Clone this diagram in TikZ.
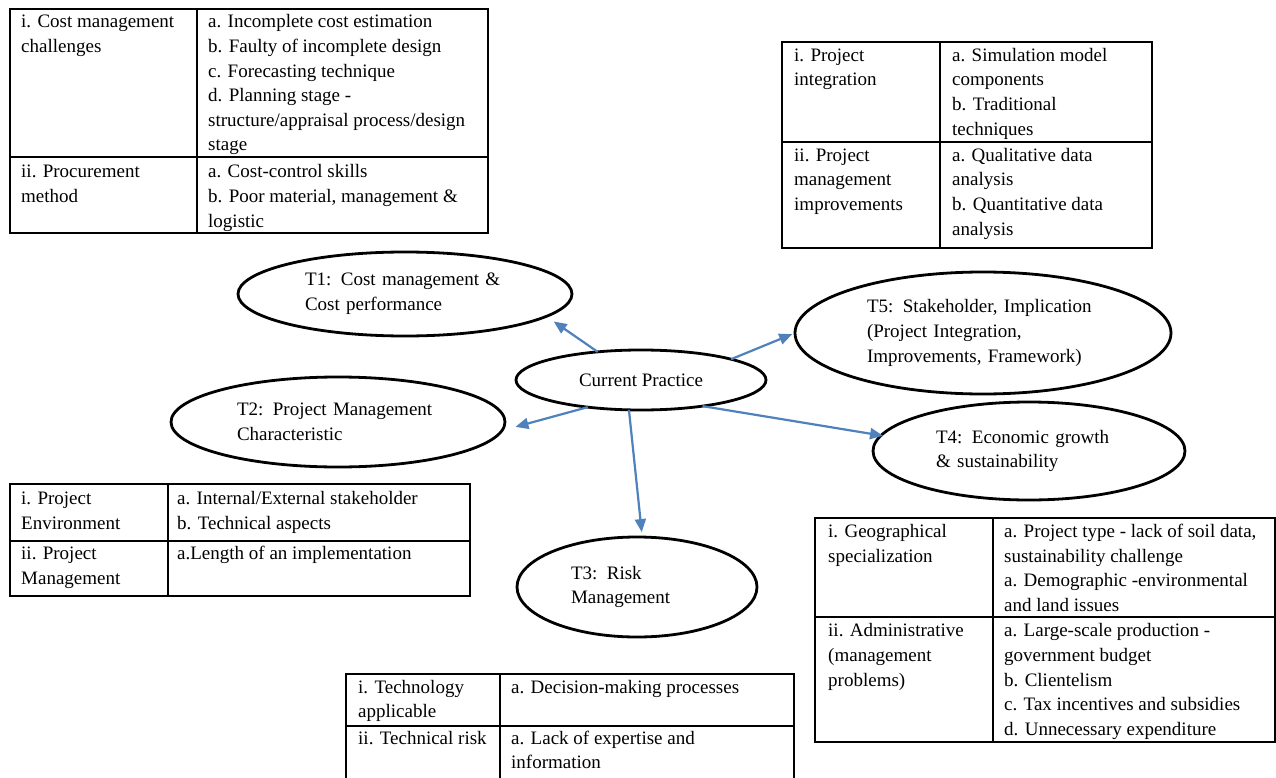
\documentclass[tikz,border=0pt]{standalone}
\usepackage{fontspec}
\setmainfont{Liberation Serif}
\usetikzlibrary{shapes.geometric,arrows.meta}
\definecolor{arrblue}{RGB}{79,129,189}
\tikzset{
  txt/.style={font=\fontsize{19}{24.6}\selectfont},
  cell/.style={txt, align=left, inner sep=0pt, anchor=north west},
  oval/.style={ellipse, draw=black, line width=2.8pt, inner sep=0pt, outer sep=0pt, txt, align=left},
  arr/.style={draw=arrblue, line width=2.2pt, -{Triangle[length=13pt,width=11pt]}},
  tbl/.style={draw=black, line width=1.6pt}
}
\begin{document}
\begin{tikzpicture}[x=1pt,y=-1pt]
\useasboundingbox (0,0) rectangle (1276,778);
\fill[white] (0,0) rectangle (1276,778);

% ---------- Table A (T1) ----------
\draw[tbl] (10,9) rectangle (488,233);
\draw[tbl] (197,9) -- (197,233);
\draw[tbl] (10,157) -- (488,157);
\node[cell] (a11) at (21,10.5) {\strut i. Cost management\\challenges};
\node[cell] (a12) at (208,10.5) {\strut a. Incomplete cost estimation\\b. Faulty of incomplete design\\c. Forecasting technique\\d. Planning stage -\\structure/appraisal process/design\\stage};
\node[cell] (a21) at (21,160.5) {\strut ii. Procurement\\method};
\node[cell] (a22) at (208,160.5) {\strut a. Cost-control skills\\b. Poor material, management \&\\logistic};

% ---------- Table B (T5) ----------
\draw[tbl] (782,42) rectangle (1152,248);
\draw[tbl] (940,42) -- (940,248);
\draw[tbl] (782,142) -- (1152,142);
\node[cell] (b11) at (794,43.8) {\strut i. Project\\integration};
\node[cell] (b12) at (952,43.8) {\strut a. Simulation model\\components\\b. Traditional\\techniques};
\node[cell] (b21) at (794,143.8) {\strut ii. Project\\management\\improvements};
\node[cell] (b22) at (952,143.8) {\strut a. Qualitative data\\analysis\\b. Quantitative data\\analysis};

% ---------- Table C (T2) ----------
\draw[tbl] (10,484) rectangle (470,596);
\draw[tbl] (168,484) -- (168,596);
\draw[tbl] (10,541) -- (470,541);
\node[cell] (c11) at (21,487) {\strut i. Project\\Environment};
\node[cell] (c12) at (177,487) {\strut a. Internal/External stakeholder\\b. Technical aspects};
\node[cell] (c21) at (21,542) {\strut ii. Project\\Management};
\node[cell] (c22) at (177,542) {\strut a.Length of an implementation};

% ---------- Table D (T4) ----------
\draw[tbl] (815,518) rectangle (1275,742);
\draw[tbl] (993,518) -- (993,742);
\draw[tbl] (815,617) -- (1275,617);
\node[cell] (d11) at (828,520) {\strut i. Geographical\\specialization};
\node[cell] (d12) at (1004,520) {\strut a. Project type - lack of soil data,\\sustainability challenge\\a. Demographic -environmental\\and land issues};
\node[cell] (d21) at (828,619.5) {\strut ii. Administrative\\(management\\problems)};
\node[cell] (d22) at (1004,619.5) {\strut a. Large-scale production -\\government budget\\b. Clientelism\\c. Tax incentives and subsidies\\d. Unnecessary expenditure};

% ---------- Table E (T3) ----------
\draw[tbl] (346,674) rectangle (794,790);
\draw[tbl] (500,674) -- (500,790);
\draw[tbl] (346,726) -- (794,726);
\node[cell] (e11) at (358,675.8) {\strut i. Technology\\applicable};
\node[cell] (e12) at (511,675.8) {\strut a. Decision-making processes};
\node[cell] (e21) at (358,726.8) {\strut ii. Technical risk};
\node[cell] (e22) at (511,726.8) {\strut a. Lack of expertise and\\information};

% ---------- Ellipses ----------
\node[oval, align=center, minimum width=250pt, minimum height=60pt] (cp) at (641,380) {Current Practice};
\node[oval, text width=200pt, minimum width=334pt, minimum height=84pt] (t1) at (405,294) {T1: Cost management \&\\Cost performance};
\node[oval, text width=202pt, minimum width=334pt, minimum height=90pt] (t2) at (338,422) {T2: Project Management\\Characteristic};
\node[oval, text width=132pt, minimum width=240pt, minimum height=100pt] (t3) at (637,587) {T3: Risk\\Management};
\node[oval, text width=186pt, minimum width=312pt, minimum height=98pt] (t4) at (1029,451) {T4: Economic growth\\\& sustainability};
\node[oval, text width=232pt, minimum width=376pt, minimum height=122pt] (t5) at (983,333) {T5: Stakeholder, Implication\\(Project Integration,\\Improvements, Framework)};

% ---------- Arrows ----------
\draw[arr, shorten >=9pt] (cp.147) -- (t1.351);
\draw[arr, shorten >=3pt] (cp.13) -- (t5.180);
\draw[arr, shorten >=14pt] (cp.207) -- (t2.357);
\draw[arr, shorten >=-2pt] (cp.337) -- (t4.174);
\draw[arr, shorten >=5pt] (cp.248) -- (t3.84);
\end{tikzpicture}
\end{document}
